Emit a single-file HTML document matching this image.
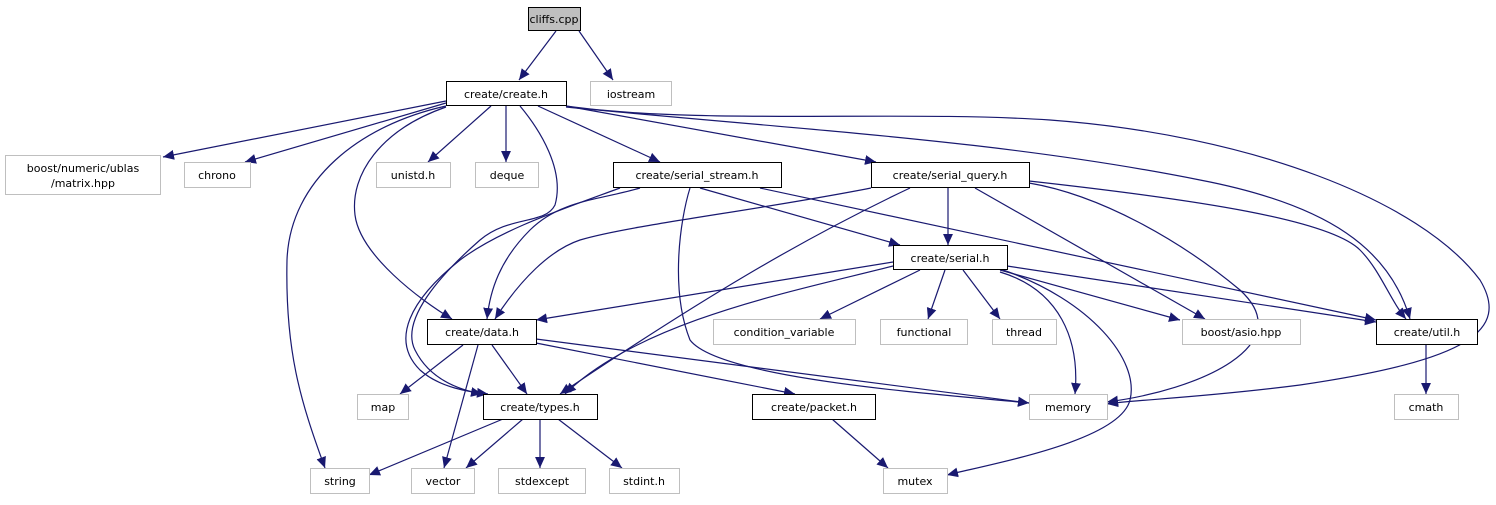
<!DOCTYPE html>
<html><head><meta charset="utf-8"><style>
html,body{margin:0;padding:0;background:#fff;}
svg text{font-family:"DejaVu Sans","Liberation Sans",sans-serif;font-size:11px;fill:#000;text-anchor:middle;}
</style></head><body>
<svg width="1496" height="500" viewBox="0 0 1496 500" xmlns="http://www.w3.org/2000/svg">
<defs><marker id="a" viewBox="0 0 10 10" refX="10" refY="5" markerWidth="11" markerHeight="11" markerUnits="userSpaceOnUse" orient="auto"><path d="M0,0.5 L10,5 L0,9.5 z" fill="#191970"/></marker></defs>
<g fill="none" stroke="#191970" stroke-width="1.2" marker-end="url(#a)">
<path d="M556,31 L519,80"/>
<path d="M579,31 L613,80"/>
<path d="M446,101 L163,157"/>
<path d="M446,103 L245,162"/>
<path d="M491,106 L428,162"/>
<path d="M506,106 L506,162"/>
<path d="M538,106 L660,162"/>
<path d="M566,106 L876,162"/>
<path d="M446,106 C360,125 290,180 287,260 C285,350 300,400 325,468"/>
<path d="M446,107 C380,130 350,175 355,215 C360,255 420,300 452,319"/>
<path d="M520,106 C540,130 565,170 555,205 C545,225 510,215 480,240 C440,275 400,320 415,350 C430,380 460,390 482,394"/>
<path d="M566,107 C800,130 1000,140 1200,180 C1330,205 1390,250 1410,319"/>
<path d="M566,106 C700,125 900,110 1050,120 C1250,135 1420,200 1480,280 C1510,330 1470,360 1300,385 C1200,398 1130,400 1107,404"/>
<path d="M640,188 C600,200 560,200 530,230 C500,260 490,290 487,319"/>
<path d="M620,188 C560,210 500,230 460,260 C410,300 390,340 420,370 C440,388 470,392 488,394"/>
<path d="M690,188 C680,220 670,290 690,340 C720,380 950,395 1029,403"/>
<path d="M700,188 L900,245"/>
<path d="M760,188 L1376,320"/>
<path d="M871,188 C760,210 630,225 580,240 C550,250 520,280 495,319"/>
<path d="M910,188 C800,240 700,300 560,394"/>
<path d="M948,188 L948,245"/>
<path d="M975,188 L1205,319"/>
<path d="M1029,183 C1100,195 1180,240 1240,290 C1300,345 1200,390 1107,402"/>
<path d="M1029,181 C1200,200 1330,220 1360,250 C1380,270 1390,300 1406,319"/>
<path d="M893,262 L536,320"/>
<path d="M893,266 C800,290 640,320 565,394"/>
<path d="M920,270 L820,319"/>
<path d="M945,270 L928,319"/>
<path d="M963,270 L1000,319"/>
<path d="M1000,272 C1060,290 1080,340 1075,394"/>
<path d="M1003,270 C1090,300 1140,360 1130,400 C1120,440 1000,462 947,475"/>
<path d="M1000,270 L1180,320"/>
<path d="M1007,266 L1376,322"/>
<path d="M463,345 L400,394"/>
<path d="M492,345 L527,394"/>
<path d="M478,345 L444,468"/>
<path d="M536,339 L1029,403"/>
<path d="M536,343 L795,394"/>
<path d="M503,419 L369,475"/>
<path d="M523,419 L466,468"/>
<path d="M540,419 L540,468"/>
<path d="M558,419 L622,468"/>
<path d="M832,419 L888,468"/>
<path d="M1426,345 L1426,394"/>
</g>
<g stroke-width="1">
<rect x="528.5" y="7.5" width="52" height="23" fill="#bfbfbf" stroke="#000"/>
<rect x="446.5" y="81.5" width="120" height="24" fill="#fff" stroke="#000"/>
<rect x="590.5" y="81.5" width="81" height="24" fill="#fff" stroke="#bfbfbf"/>
<rect x="5.5" y="155.5" width="155" height="39" fill="#fff" stroke="#bfbfbf"/>
<rect x="184.5" y="162.5" width="66" height="25" fill="#fff" stroke="#bfbfbf"/>
<rect x="376.5" y="162.5" width="74" height="25" fill="#fff" stroke="#bfbfbf"/>
<rect x="475.5" y="162.5" width="63" height="25" fill="#fff" stroke="#bfbfbf"/>
<rect x="613.5" y="162.5" width="168" height="25" fill="#fff" stroke="#000"/>
<rect x="871.5" y="162.5" width="158" height="25" fill="#fff" stroke="#000"/>
<rect x="893.5" y="245.5" width="114" height="24" fill="#fff" stroke="#000"/>
<rect x="427.5" y="319.5" width="109" height="25" fill="#fff" stroke="#000"/>
<rect x="713.5" y="319.5" width="142" height="25" fill="#fff" stroke="#bfbfbf"/>
<rect x="880.5" y="319.5" width="87" height="25" fill="#fff" stroke="#bfbfbf"/>
<rect x="992.5" y="319.5" width="64" height="25" fill="#fff" stroke="#bfbfbf"/>
<rect x="1182.5" y="319.5" width="118" height="25" fill="#fff" stroke="#bfbfbf"/>
<rect x="1376.5" y="319.5" width="101" height="25" fill="#fff" stroke="#000"/>
<rect x="357.5" y="394.5" width="51" height="25" fill="#fff" stroke="#bfbfbf"/>
<rect x="483.5" y="394.5" width="114" height="25" fill="#fff" stroke="#000"/>
<rect x="752.5" y="394.5" width="123" height="25" fill="#fff" stroke="#000"/>
<rect x="1029.5" y="394.5" width="78" height="25" fill="#fff" stroke="#bfbfbf"/>
<rect x="1394.5" y="394.5" width="64" height="25" fill="#fff" stroke="#bfbfbf"/>
<rect x="310.5" y="468.5" width="59" height="25" fill="#fff" stroke="#bfbfbf"/>
<rect x="411.5" y="468.5" width="63" height="25" fill="#fff" stroke="#bfbfbf"/>
<rect x="498.5" y="468.5" width="87" height="25" fill="#fff" stroke="#bfbfbf"/>
<rect x="609.5" y="468.5" width="70" height="25" fill="#fff" stroke="#bfbfbf"/>
<rect x="883.5" y="468.5" width="64" height="25" fill="#fff" stroke="#bfbfbf"/>
</g>
<text x="554" y="23">cliffs.cpp</text>
<text x="506" y="98">create/create.h</text>
<text x="631" y="98">iostream</text>
<text x="83" y="172">boost/numeric/ublas</text>
<text x="83" y="187">/matrix.hpp</text>
<text x="217" y="179">chrono</text>
<text x="413" y="179">unistd.h</text>
<text x="507" y="179">deque</text>
<text x="697" y="179">create/serial_stream.h</text>
<text x="950" y="179">create/serial_query.h</text>
<text x="950" y="262">create/serial.h</text>
<text x="482" y="336">create/data.h</text>
<text x="784" y="336">condition_variable</text>
<text x="924" y="336">functional</text>
<text x="1024" y="336">thread</text>
<text x="1241" y="336">boost/asio.hpp</text>
<text x="1427" y="336">create/util.h</text>
<text x="383" y="411">map</text>
<text x="540" y="411">create/types.h</text>
<text x="814" y="411">create/packet.h</text>
<text x="1068" y="411">memory</text>
<text x="1426" y="411">cmath</text>
<text x="340" y="485">string</text>
<text x="443" y="485">vector</text>
<text x="542" y="485">stdexcept</text>
<text x="644" y="485">stdint.h</text>
<text x="915" y="485">mutex</text>
</svg>
</body></html>
